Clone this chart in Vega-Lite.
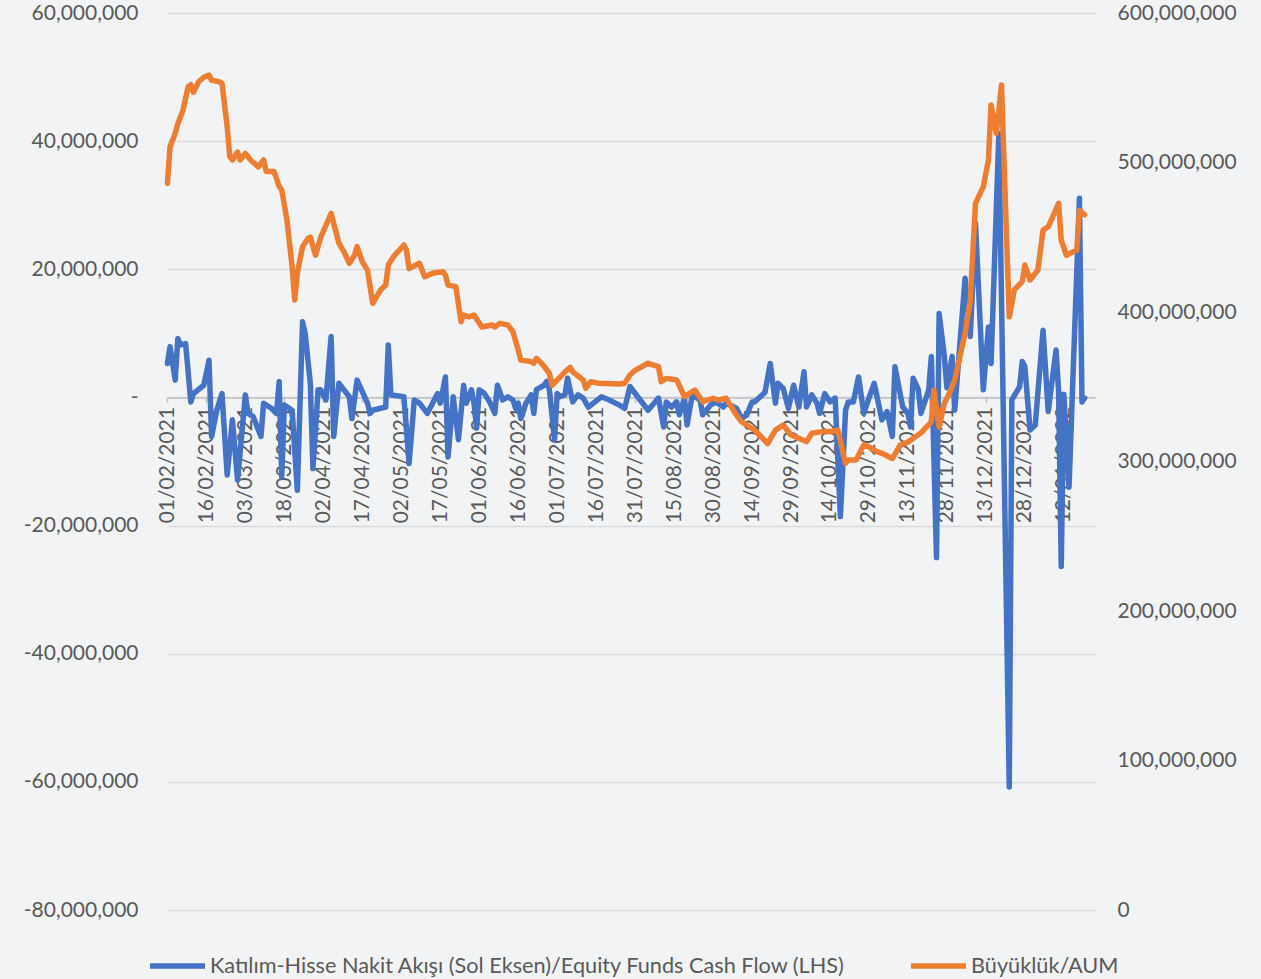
{
  "$schema": "https://vega.github.io/schema/vega-lite/v6.json",
  "width": 928,
  "height": 897,
  "autosize": {"type": "none"},
  "padding": {"left": 167, "top": 13, "right": 166, "bottom": 69},
  "background": "#f2f3f5",
  "config": {
    "view": {"stroke": null},
    "font": "Lato",
    "axis": {"labelFont": "Lato", "labelColor": "#595959", "labelFontSize": 21, "titleFont": "Lato"},
    "legend": {"labelFont": "Lato", "labelColor": "#595959"}
  },
  "datasets": {
    "flow": [
      {"date":"2021-02-01","value":5300000},{"date":"2021-02-02","value":7900000},{"date":"2021-02-03","value":5300000},{"date":"2021-02-04","value":2700000},{"date":"2021-02-05","value":9200000},{"date":"2021-02-06","value":8200000},{"date":"2021-02-08","value":8400000},{"date":"2021-02-10","value":-700000},{"date":"2021-02-11","value":600000},{"date":"2021-02-15","value":1900000},{"date":"2021-02-17","value":5800000},{"date":"2021-02-18","value":-6100000},{"date":"2021-02-20","value":-2000000},{"date":"2021-02-22","value":600000},{"date":"2021-02-24","value":-12100000},{"date":"2021-02-26","value":-3500000},{"date":"2021-02-28","value":-12900000},
      {"date":"2021-03-03","value":400000},{"date":"2021-03-04","value":-2500000},{"date":"2021-03-06","value":-3000000},{"date":"2021-03-09","value":-6100000},{"date":"2021-03-10","value":-900000},{"date":"2021-03-13","value":-1700000},{"date":"2021-03-15","value":-2500000},{"date":"2021-03-16","value":2500000},{"date":"2021-03-17","value":-12400000},{"date":"2021-03-18","value":-1200000},{"date":"2021-03-21","value":-2000000},{"date":"2021-03-23","value":-14500000},{"date":"2021-03-25","value":11800000},{"date":"2021-03-26","value":10000000},{"date":"2021-03-28","value":2200000},{"date":"2021-03-29","value":-11100000},{"date":"2021-03-31","value":1200000},
      {"date":"2021-04-01","value":1200000},{"date":"2021-04-03","value":-400000},{"date":"2021-04-05","value":9500000},{"date":"2021-04-06","value":-6100000},{"date":"2021-04-08","value":2200000},{"date":"2021-04-12","value":100000},{"date":"2021-04-13","value":-3300000},{"date":"2021-04-15","value":2700000},{"date":"2021-04-19","value":-900000},{"date":"2021-04-20","value":-2500000},{"date":"2021-04-21","value":-2000000},{"date":"2021-04-26","value":-1500000},{"date":"2021-04-27","value":8200000},{"date":"2021-04-28","value":400000},
      {"date":"2021-05-03","value":100000},{"date":"2021-05-05","value":-10300000},{"date":"2021-05-07","value":-400000},{"date":"2021-05-09","value":-900000},{"date":"2021-05-12","value":-2500000},{"date":"2021-05-16","value":600000},{"date":"2021-05-17","value":-900000},{"date":"2021-05-19","value":3200000},{"date":"2021-05-20","value":-9300000},{"date":"2021-05-22","value":100000},{"date":"2021-05-24","value":-6600000},{"date":"2021-05-26","value":1900000},{"date":"2021-05-27","value":-900000},{"date":"2021-05-29","value":1200000},{"date":"2021-05-30","value":-900000},{"date":"2021-05-31","value":-4800000},
      {"date":"2021-06-01","value":1200000},{"date":"2021-06-03","value":600000},{"date":"2021-06-05","value":-700000},{"date":"2021-06-07","value":-2500000},{"date":"2021-06-08","value":1900000},{"date":"2021-06-10","value":-400000},{"date":"2021-06-12","value":100000},{"date":"2021-06-14","value":-400000},{"date":"2021-06-15","value":-1700000},{"date":"2021-06-16","value":-900000},{"date":"2021-06-17","value":-3300000},{"date":"2021-06-19","value":-900000},{"date":"2021-06-21","value":400000},{"date":"2021-06-22","value":-2500000},{"date":"2021-06-23","value":1200000},{"date":"2021-06-26","value":1900000},{"date":"2021-06-27","value":2500000},{"date":"2021-06-28","value":1200000},{"date":"2021-06-30","value":-6600000},
      {"date":"2021-07-01","value":600000},{"date":"2021-07-02","value":100000},{"date":"2021-07-04","value":400000},{"date":"2021-07-05","value":3000000},{"date":"2021-07-07","value":-700000},{"date":"2021-07-09","value":400000},{"date":"2021-07-11","value":-100000},{"date":"2021-07-13","value":-1500000},{"date":"2021-07-18","value":100000},{"date":"2021-07-21","value":-400000},{"date":"2021-07-25","value":-1200000},{"date":"2021-07-27","value":-1700000},{"date":"2021-07-29","value":1700000},
      {"date":"2021-08-01","value":100000},{"date":"2021-08-05","value":-2000000},{"date":"2021-08-09","value":-100000},{"date":"2021-08-11","value":-4600000},{"date":"2021-08-12","value":-700000},{"date":"2021-08-14","value":-1500000},{"date":"2021-08-16","value":-700000},{"date":"2021-08-17","value":-2700000},{"date":"2021-08-19","value":-100000},{"date":"2021-08-20","value":-4300000},{"date":"2021-08-22","value":400000},{"date":"2021-08-25","value":-400000},{"date":"2021-08-26","value":-2700000},{"date":"2021-08-29","value":-1200000},{"date":"2021-08-31","value":-700000},
      {"date":"2021-09-03","value":-1500000},{"date":"2021-09-04","value":-900000},{"date":"2021-09-08","value":-1700000},{"date":"2021-09-10","value":-3300000},{"date":"2021-09-12","value":-2700000},{"date":"2021-09-14","value":-700000},{"date":"2021-09-15","value":-700000},{"date":"2021-09-19","value":800000},{"date":"2021-09-21","value":5300000},{"date":"2021-09-23","value":-900000},{"date":"2021-09-24","value":2200000},{"date":"2021-09-26","value":1400000},{"date":"2021-09-28","value":-1700000},{"date":"2021-09-30","value":1900000},
      {"date":"2021-10-02","value":-1500000},{"date":"2021-10-04","value":4000000},{"date":"2021-10-05","value":-1500000},{"date":"2021-10-07","value":400000},{"date":"2021-10-09","value":-900000},{"date":"2021-10-10","value":-2500000},{"date":"2021-10-12","value":600000},{"date":"2021-10-14","value":-700000},{"date":"2021-10-16","value":-100000},{"date":"2021-10-18","value":-18600000},{"date":"2021-10-20","value":-2000000},{"date":"2021-10-21","value":-700000},{"date":"2021-10-23","value":-700000},{"date":"2021-10-25","value":3200000},{"date":"2021-10-27","value":-2500000},{"date":"2021-10-29","value":-100000},{"date":"2021-10-31","value":2200000},
      {"date":"2021-11-03","value":-3500000},{"date":"2021-11-05","value":-2200000},{"date":"2021-11-07","value":-6100000},{"date":"2021-11-08","value":4800000},{"date":"2021-11-11","value":-1500000},{"date":"2021-11-13","value":-2500000},{"date":"2021-11-14","value":-4600000},{"date":"2021-11-15","value":3000000},{"date":"2021-11-17","value":1200000},{"date":"2021-11-18","value":-2500000},{"date":"2021-11-21","value":1200000},{"date":"2021-11-22","value":6400000},{"date":"2021-11-24","value":-25000000},{"date":"2021-11-25","value":13100000},{"date":"2021-11-27","value":6500000},{"date":"2021-11-28","value":1500000},{"date":"2021-11-30","value":6400000},
      {"date":"2021-12-01","value":-2000000},{"date":"2021-12-05","value":18600000},{"date":"2021-12-07","value":9500000},{"date":"2021-12-09","value":27200000},{"date":"2021-12-12","value":1200000},{"date":"2021-12-14","value":11000000},{"date":"2021-12-15","value":5300000},{"date":"2021-12-18","value":41200000},{"date":"2021-12-22","value":-60800000},{"date":"2021-12-23","value":-400000},{"date":"2021-12-26","value":1700000},{"date":"2021-12-27","value":5600000},{"date":"2021-12-28","value":4800000},{"date":"2021-12-30","value":-5100000},
      {"date":"2022-01-01","value":-4300000},{"date":"2022-01-04","value":10500000},{"date":"2022-01-06","value":-2200000},{"date":"2022-01-09","value":7400000},{"date":"2022-01-10","value":1000000},{"date":"2022-01-11","value":-26400000},{"date":"2022-01-12","value":500000},{"date":"2022-01-14","value":-14000000},{"date":"2022-01-18","value":31100000},{"date":"2022-01-19","value":-700000},{"date":"2022-01-20","value":-100000}
    ],
    "aum": [
      {"date":"2021-02-01","value":486000000},{"date":"2021-02-02","value":510600000},{"date":"2021-02-04","value":519500000},{"date":"2021-02-05","value":526000000},{"date":"2021-02-07","value":535000000},{"date":"2021-02-09","value":550700000},{"date":"2021-02-10","value":552000000},{"date":"2021-02-11","value":547000000},{"date":"2021-02-13","value":554000000},{"date":"2021-02-15","value":557000000},{"date":"2021-02-17","value":558500000},{"date":"2021-02-18","value":555000000},{"date":"2021-02-21","value":554000000},{"date":"2021-02-22","value":553000000},{"date":"2021-02-24","value":524000000},{"date":"2021-02-25","value":504000000},{"date":"2021-02-26","value":501700000},{"date":"2021-02-28","value":507000000},
      {"date":"2021-03-01","value":501700000},{"date":"2021-03-03","value":506000000},{"date":"2021-03-05","value":501700000},{"date":"2021-03-08","value":497000000},{"date":"2021-03-10","value":501700000},{"date":"2021-03-11","value":494000000},{"date":"2021-03-14","value":494000000},{"date":"2021-03-16","value":484000000},{"date":"2021-03-17","value":481600000},{"date":"2021-03-19","value":461500000},{"date":"2021-03-21","value":430000000},{"date":"2021-03-22","value":408000000},{"date":"2021-03-23","value":426000000},{"date":"2021-03-25","value":443700000},{"date":"2021-03-27","value":449000000},{"date":"2021-03-28","value":450000000},{"date":"2021-03-30","value":438000000},
      {"date":"2021-04-01","value":450000000},{"date":"2021-04-05","value":466000000},{"date":"2021-04-08","value":446000000},{"date":"2021-04-10","value":440000000},{"date":"2021-04-12","value":432600000},{"date":"2021-04-14","value":438000000},{"date":"2021-04-15","value":443700000},{"date":"2021-04-17","value":433600000},{"date":"2021-04-19","value":428000000},{"date":"2021-04-21","value":405800000},{"date":"2021-04-24","value":414700000},{"date":"2021-04-26","value":418000000},{"date":"2021-04-27","value":431400000},{"date":"2021-04-29","value":437000000},
      {"date":"2021-05-03","value":444800000},{"date":"2021-05-04","value":441500000},{"date":"2021-05-05","value":429000000},{"date":"2021-05-09","value":432600000},{"date":"2021-05-11","value":423600000},{"date":"2021-05-14","value":425900000},{"date":"2021-05-18","value":427000000},{"date":"2021-05-19","value":424700000},{"date":"2021-05-20","value":418000000},{"date":"2021-05-23","value":417000000},{"date":"2021-05-25","value":393500000},{"date":"2021-05-26","value":398000000},{"date":"2021-05-28","value":396800000},{"date":"2021-05-30","value":398000000},
      {"date":"2021-06-02","value":390000000},{"date":"2021-06-06","value":391300000},{"date":"2021-06-07","value":390000000},{"date":"2021-06-09","value":392400000},{"date":"2021-06-12","value":391300000},{"date":"2021-06-14","value":386800000},{"date":"2021-06-16","value":374600000},{"date":"2021-06-17","value":367900000},{"date":"2021-06-21","value":366800000},{"date":"2021-06-22","value":365700000},{"date":"2021-06-23","value":369000000},{"date":"2021-06-25","value":365700000},{"date":"2021-06-28","value":359000000},{"date":"2021-06-29","value":351000000},
      {"date":"2021-07-01","value":354500000},{"date":"2021-07-04","value":360000000},{"date":"2021-07-06","value":363000000},{"date":"2021-07-07","value":360000000},{"date":"2021-07-11","value":354500000},{"date":"2021-07-12","value":349000000},{"date":"2021-07-14","value":353400000},{"date":"2021-07-17","value":352300000},{"date":"2021-07-25","value":351800000},{"date":"2021-07-27","value":352300000},{"date":"2021-07-29","value":357900000},{"date":"2021-07-31","value":361000000},
      {"date":"2021-08-05","value":365700000},{"date":"2021-08-09","value":363400000},{"date":"2021-08-10","value":353400000},{"date":"2021-08-12","value":355600000},{"date":"2021-08-16","value":354500000},{"date":"2021-08-19","value":343400000},{"date":"2021-08-23","value":347800000},{"date":"2021-08-26","value":340000000},{"date":"2021-08-30","value":342300000},
      {"date":"2021-09-01","value":341000000},{"date":"2021-09-04","value":342300000},{"date":"2021-09-08","value":331000000},{"date":"2021-09-10","value":326600000},{"date":"2021-09-15","value":321000000},{"date":"2021-09-20","value":312000000},{"date":"2021-09-23","value":321000000},{"date":"2021-09-26","value":324400000},{"date":"2021-09-29","value":317700000},
      {"date":"2021-10-02","value":315500000},{"date":"2021-10-05","value":313300000},{"date":"2021-10-07","value":318900000},{"date":"2021-10-11","value":320000000},{"date":"2021-10-14","value":320000000},{"date":"2021-10-17","value":321000000},{"date":"2021-10-20","value":298800000},{"date":"2021-10-21","value":301000000},{"date":"2021-10-24","value":301000000},{"date":"2021-10-27","value":311000000},{"date":"2021-10-29","value":309900000},
      {"date":"2021-11-01","value":306600000},{"date":"2021-11-03","value":305500000},{"date":"2021-11-07","value":302000000},{"date":"2021-11-10","value":311000000},{"date":"2021-11-13","value":313000000},{"date":"2021-11-18","value":319000000},{"date":"2021-11-22","value":326600000},{"date":"2021-11-23","value":347800000},{"date":"2021-11-25","value":323000000},{"date":"2021-11-27","value":339000000},{"date":"2021-11-29","value":345600000},
      {"date":"2021-12-01","value":354500000},{"date":"2021-12-03","value":370000000},{"date":"2021-12-05","value":385700000},{"date":"2021-12-07","value":408000000},{"date":"2021-12-09","value":472700000},{"date":"2021-12-12","value":483800000},{"date":"2021-12-14","value":501700000},{"date":"2021-12-15","value":538500000},{"date":"2021-12-17","value":519500000},{"date":"2021-12-18","value":535000000},{"date":"2021-12-19","value":551800000},{"date":"2021-12-22","value":396800000},{"date":"2021-12-24","value":415000000},{"date":"2021-12-27","value":420300000},{"date":"2021-12-28","value":431400000},{"date":"2021-12-30","value":421400000},
      {"date":"2022-01-02","value":428000000},{"date":"2022-01-04","value":454800000},{"date":"2022-01-06","value":457000000},{"date":"2022-01-10","value":472700000},{"date":"2022-01-11","value":448000000},{"date":"2022-01-13","value":438000000},{"date":"2022-01-17","value":441500000},{"date":"2022-01-18","value":468000000},{"date":"2022-01-20","value":465000000}
    ]
  },
  "encoding": {
    "x": {
      "field": "date",
      "type": "temporal",
      "title": null,
      "scale": {
        "type": "utc",
        "domain": [
          {"year": 2021, "month": 1, "date": 31, "hours": 20, "utc": true},
          {"year": 2022, "month": 1, "date": 24, "utc": true}
        ]
      },
      "axis": {
        "orient": "bottom",
        "offset": -512.6,
        "format": "%d/%m/%Y",
        "labelAngle": 270,
        "labelPadding": 4,
        "grid": false,
        "domain": true,
        "domainColor": "#bfbfbf",
        "domainWidth": 1.5,
        "ticks": true,
        "tickSize": 5,
        "tickColor": "#bfbfbf",
        "tickWidth": 1.5,
        "labelOverlap": false,
        "labelBound": false,
        "labelFlush": false,
        "values": [
          {"year":2021,"month":2,"date":1,"utc":true},{"year":2021,"month":2,"date":16,"utc":true},{"year":2021,"month":3,"date":3,"utc":true},{"year":2021,"month":3,"date":18,"utc":true},{"year":2021,"month":4,"date":2,"utc":true},{"year":2021,"month":4,"date":17,"utc":true},{"year":2021,"month":5,"date":2,"utc":true},{"year":2021,"month":5,"date":17,"utc":true},{"year":2021,"month":6,"date":1,"utc":true},{"year":2021,"month":6,"date":16,"utc":true},{"year":2021,"month":7,"date":1,"utc":true},{"year":2021,"month":7,"date":16,"utc":true},{"year":2021,"month":7,"date":31,"utc":true},{"year":2021,"month":8,"date":15,"utc":true},{"year":2021,"month":8,"date":30,"utc":true},{"year":2021,"month":9,"date":14,"utc":true},{"year":2021,"month":9,"date":29,"utc":true},{"year":2021,"month":10,"date":14,"utc":true},{"year":2021,"month":10,"date":29,"utc":true},{"year":2021,"month":11,"date":13,"utc":true},{"year":2021,"month":11,"date":28,"utc":true},{"year":2021,"month":12,"date":13,"utc":true},{"year":2021,"month":12,"date":28,"utc":true},{"year":2022,"month":1,"date":12,"utc":true}
        ]
      }
    }
  },
  "layer": [
    {
      "data": {"name": "flow"},
      "mark": {"type": "line", "strokeWidth": 5.5, "strokeJoin": "round", "strokeCap": "round"},
      "encoding": {
        "y": {
          "field": "value",
          "type": "quantitative",
          "title": null,
          "scale": {"domain": [-80000000, 60000000], "nice": false, "zero": false},
          "axis": {
            "orient": "left",
            "values": [-80000000, -60000000, -40000000, -20000000, 0, 20000000, 40000000, 60000000],
            "labelExpr": "datum.value === 0 ? '-\u00a0\u00a0' : replace(format(datum.value, ',.0f'), '\u2212', '-')",
            "domain": false,
            "ticks": false,
            "labelPadding": 29,
            "grid": true,
            "gridColor": "#d9d9d9",
            "gridWidth": 1.5
          }
        },
        "color": {
          "datum": "Katılım-Hisse Nakit Akışı (Sol Eksen)/Equity Funds Cash Flow (LHS)",
          "type": "nominal",
          "scale": {
            "domain": ["Katılım-Hisse Nakit Akışı (Sol Eksen)/Equity Funds Cash Flow (LHS)", "Büyüklük/AUM"],
            "range": ["#4472c4", "#ed7d31"]
          },
          "legend": {
            "title": null,
            "orient": "none",
            "legendX": -20,
            "legendY": 922,
            "direction": "horizontal",
            "columns": 2,
            "columnPadding": 54,
            "symbolType": "stroke",
            "symbolSize": 3025,
            "symbolStrokeWidth": 5.5,
            "labelFontSize": 21.7,
            "labelOffset": 2,
            "labelLimit": 1000,
            "padding": 0
          }
        }
      }
    },
    {
      "data": {"name": "aum"},
      "mark": {"type": "line", "strokeWidth": 5.5, "strokeJoin": "round", "strokeCap": "round"},
      "encoding": {
        "y": {
          "field": "value",
          "type": "quantitative",
          "title": null,
          "scale": {"domain": [0, 600000000], "nice": false},
          "axis": {
            "orient": "right",
            "values": [0, 100000000, 200000000, 300000000, 400000000, 500000000, 600000000],
            "format": ",.0f",
            "domain": false,
            "ticks": false,
            "labelPadding": 22,
            "grid": false
          }
        },
        "color": {"datum": "Büyüklük/AUM", "type": "nominal"}
      }
    }
  ],
  "resolve": {"scale": {"y": "independent"}}
}
